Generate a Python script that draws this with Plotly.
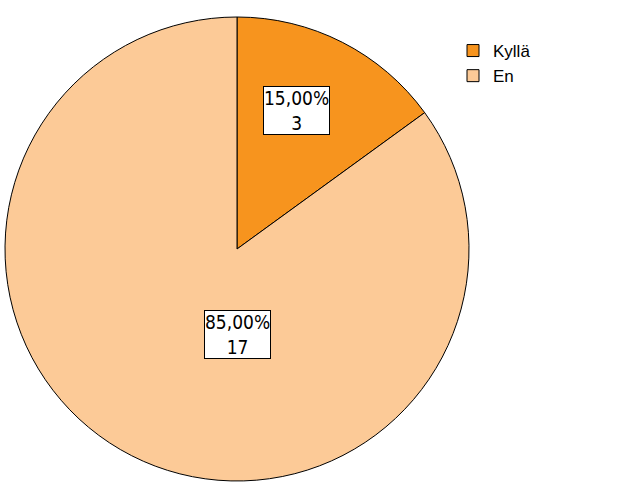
import plotly.graph_objects as go

categories = ["Kyllä", "En"]
counts = [3, 17]
percent_labels = ["15,00%", "85,00%"]
colors = ["#F7941E", "#FCCA97"]

W, H = 626, 501
cx, cy, r = 237, 249, 232

fig = go.Figure(go.Pie(
    labels=categories,
    values=counts,
    sort=False,
    direction="clockwise",
    rotation=0,
    textinfo="none",
    hoverinfo="label+value+percent",
    marker=dict(colors=colors, line=dict(color="black", width=1)),
    domain=dict(x=[(cx - r) / W, (cx + r) / W], y=[1 - (cy + r) / H, 1 - (cy - r) / H]),
))

label_pos = [(296, 110), (237, 334)]
for (px, py), pct, n in zip(label_pos, percent_labels, counts):
    fig.add_annotation(
        x=px / W, y=1 - py / H, xref="paper", yref="paper",
        text=f"{pct}<br>{n}", showarrow=False,
        font=dict(family="Liberation Sans Narrow, Arial Narrow, DejaVu Sans Condensed, Liberation Sans",
                  size=19, color="black"),
        bgcolor="white", bordercolor="black", borderwidth=1, borderpad=0,
        xanchor="center", yanchor="middle",
    )

fig.update_layout(
    width=W, height=H,
    margin=dict(l=0, r=0, t=0, b=0),
    paper_bgcolor="white", plot_bgcolor="white",
    showlegend=True,
    legend=dict(
        x=453 / W, y=1 - 33 / H, xanchor="left", yanchor="top",
        font=dict(family="Liberation Sans, Arial", size=17, color="black"),
        bgcolor="rgba(0,0,0,0)", traceorder="normal",
        itemwidth=30,
    ),
)

fig.write_html("out.html", config={"displayModeBar": False},
               post_script="document.body.style.margin='0';")
